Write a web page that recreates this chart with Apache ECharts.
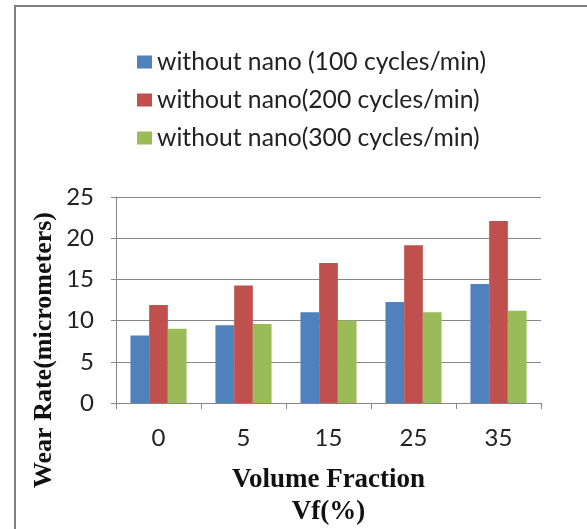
<!DOCTYPE html>
<html>
<head>
<meta charset="utf-8">
<script src="https://cdn.jsdelivr.net/npm/echarts@6/dist/echarts.min.js"></script>
<style>
  html, body { margin: 0; padding: 0; background: #fff; }
  #chart { width: 587px; height: 529px; }
</style>
</head>
<body>
<div id="chart"></div>
<script>
// Volume fraction categories (x axis)
const categories = ['0', '5', '15', '25', '35'];

// Wear rate (micrometers) for each sliding speed
const seriesNames = [
  'without nano (100 cycles/min)',
  'without nano(200 cycles/min)',
  'without nano(300 cycles/min)'
];
const wear100 = [8.2, 9.45, 11.0, 12.25, 14.45];
const wear200 = [11.9, 14.25, 17.0, 19.15, 22.1];
const wear300 = [9.0, 9.6, 10.0, 11.0, 11.2];

const colors = ['#4F81BD', '#C0504D', '#9BBB59'];
const sansFont = 'Lato, "Noto Sans", sans-serif';
const serifFont = '"Liberation Serif", "DejaVu Serif", serif';

const chart = echarts.init(document.getElementById('chart'), null, { renderer: 'canvas' });

const makeBar = (name, data, color) => ({
  name: name,
  type: 'bar',
  data: data,
  barGap: '0%',
  barCategoryGap: '34%',
  itemStyle: { color: color },
  emphasis: { disabled: true }
});

chart.setOption({
  animation: false,
  color: colors,
  grid: { left: 116, right: 46, top: 197, bottom: 124 },
  legend: {
    orient: 'vertical',
    left: 132,
    top: 43,
    itemWidth: 15,
    itemHeight: 13,
    itemGap: 10,
    icon: 'rect',
    textStyle: { fontFamily: sansFont, fontSize: 24.7, lineHeight: 28, color: '#222' },
    data: seriesNames
  },
  xAxis: {
    type: 'category',
    data: categories,
    axisLine: { lineStyle: { color: '#868686', width: 1 } },
    axisTick: { show: true, length: 6, lineStyle: { color: '#868686' } },
    axisLabel: { fontFamily: sansFont, fontSize: 24, color: '#222', margin: 23 },
    name: 'Volume Fraction\nVf(%)',
    nameLocation: 'middle',
    nameGap: 61,
    nameTextStyle: {
      fontFamily: serifFont, fontWeight: 'bold', fontSize: 27, color: '#111',
      lineHeight: 32, verticalAlign: 'top'
    }
  },
  yAxis: {
    type: 'value',
    min: 0,
    max: 25,
    interval: 5,
    axisLine: { show: true, lineStyle: { color: '#868686', width: 1 } },
    axisTick: { show: true, length: 5, lineStyle: { color: '#868686' } },
    axisLabel: { fontFamily: sansFont, fontSize: 24, color: '#222', margin: 22 },
    splitLine: { lineStyle: { color: '#868686', width: 1 } }
  },
  graphic: [
    // frame around the chart area
    { type: 'line', shape: { x1: 14, y1: 6, x2: 587, y2: 6 }, style: { stroke: '#808080', lineWidth: 2 } },
    { type: 'line', shape: { x1: 15, y1: 5, x2: 15, y2: 529 }, style: { stroke: '#808080', lineWidth: 2 } },
    // y axis title
    {
      type: 'text',
      x: 44,
      y: 350,
      rotation: Math.PI / 2,
      style: {
        text: 'Wear Rate(micrometers)',
        font: 'bold 26px ' + serifFont,
        fill: '#111',
        align: 'center',
        verticalAlign: 'middle'
      }
    }
  ],
  series: [
    makeBar(seriesNames[0], wear100, colors[0]),
    makeBar(seriesNames[1], wear200, colors[1]),
    makeBar(seriesNames[2], wear300, colors[2])
  ]
});
</script>
</body>
</html>
